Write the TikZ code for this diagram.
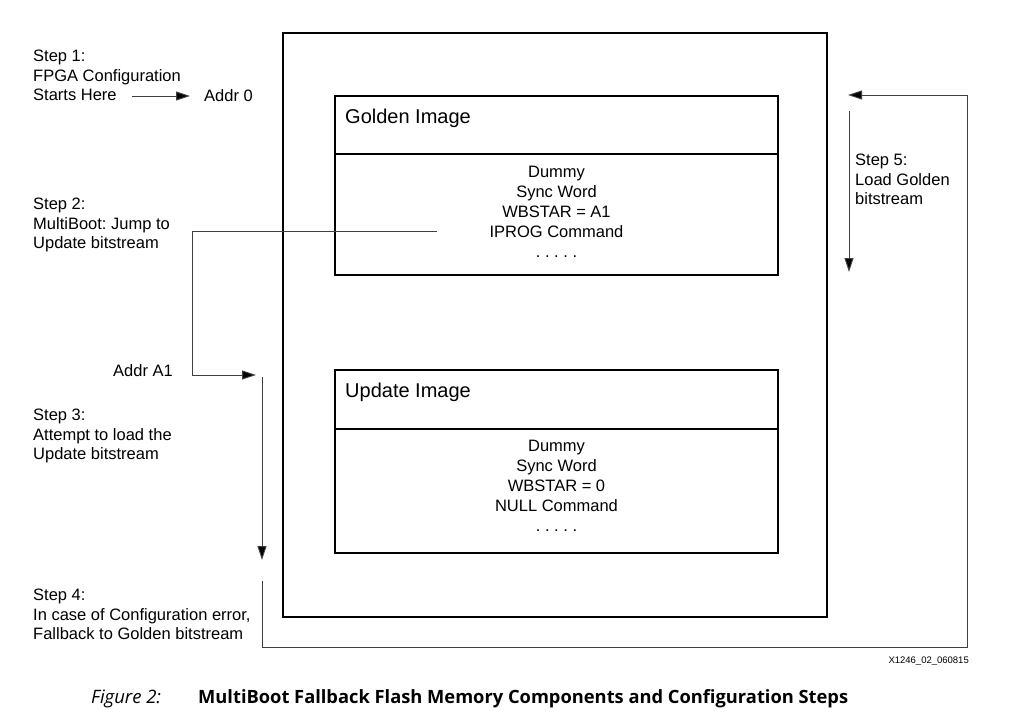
\documentclass[tikz,border=0pt]{standalone}
\usepackage{fontspec}
\setmainfont{Liberation Sans}
\newfontfamily\capfont{Open Sans}
\usetikzlibrary{arrows.meta}
\frenchspacing
\begin{document}
\begin{tikzpicture}[x=1pt,y=-1pt,
  txt/.style={inner sep=0pt, font=\fontsize{16.5}{19.5}\selectfont, align=left},
  bodytxt/.style={inner sep=0pt, font=\fontsize{16.5}{20}\selectfont, align=center},
  titletxt/.style={inner sep=0pt, font=\fontsize{20}{24}\selectfont},
  outerbox/.style={draw, line width=1.8pt, inner sep=0pt, outer sep=0pt, anchor=north west},
  imgbox/.style={draw, line width=1.5pt, inner sep=0pt, outer sep=0pt, anchor=north west, minimum width=443pt},
  conn/.style={draw=black!75, line width=1pt},
  arr/.style={conn, -{Triangle[length=14pt,width=9pt,fill=black]}},
]
\useasboundingbox (0,0) rectangle (1009,717);

% flash memory
\node[outerbox, minimum width=544pt, minimum height=584pt] (flash) at (283,33) {};
\node[imgbox, minimum height=58pt] (gtitle) at (335,96) {};
\node[imgbox, minimum height=121pt] (gbody) at (335,154) {};
\node[imgbox, minimum height=59pt] (utitle) at (335,370) {};
\node[imgbox, minimum height=124pt] (ubody) at (335,429) {};

\node[titletxt, anchor=base west] (gname) at (345,123) {Golden Image};
\node[titletxt, anchor=base west] (uname) at (345,397) {Update Image};
\node[bodytxt, anchor=north] (gtext) at (556.5,166.2) {Dummy\\Sync Word\\WBSTAR = A1\\IPROG Command\\. . . . .};
\node[bodytxt, anchor=north] (utext) at (556.5,440.2) {Dummy\\Sync Word\\WBSTAR = 0\\NULL Command\\. . . . .};

% step texts
\node[txt, anchor=north west] (step1) at (33,50) {Step 1:\\FPGA Configuration\\Starts Here};
\node[txt, anchor=north west] (step2) at (33,198) {Step 2:\\MultiBoot: Jump to\\Update bitstream};
\node[txt, anchor=north west] (step3) at (33,409) {Step 3:\\Attempt to load the\\Update bitstream};
\node[txt, anchor=north west] (step4) at (33,589) {Step 4:\\In case of Configuration error,\\Fallback to Golden bitstream};
\node[txt, anchor=north west] (step5) at (855,154) {Step 5:\\Load Golden\\bitstream};
\node[txt, anchor=base west] (addr0) at (204,101) {Addr 0};
\node[txt, anchor=base west] (addrA1) at (113,376) {Addr A1};

% connectors
\coordinate (s1start) at (132,96);
\draw[arr, shorten >=14pt] (s1start) -- (s1start -| addr0.west);

\coordinate (jumpsrc) at (437,231);
\coordinate (jumpturn) at (192,375);
\coordinate (a1tip) at (256,375);
\draw[arr] (jumpsrc) -| (jumpturn) -- (a1tip);

\coordinate (s3top) at (262,377);
\coordinate (s3bot) at (262,560);
\draw[arr] (s3top) -- (s3bot);

\coordinate (s4start) at (262,581);
\coordinate (loopcorner) at (967,647);
\coordinate (s5tip) at (848,95);
\draw[arr] (s4start) |- (loopcorner) |- (s5tip);

\coordinate (s5top) at (849,111);
\coordinate (s5bot) at (849,272);
\draw[arr] (s5top) -- (s5bot);

% figure id and caption
\node[inner sep=0pt, anchor=base east, font=\fontsize{9.5}{11}\selectfont] (figid) at (969,663) {X1246\_02\_060815};
\node[inner sep=0pt, anchor=base west, font=\capfont\itshape\fontsize{18.5}{22}\selectfont] (figlabel) at (91,703) {Figure 2:};
\node[inner sep=0pt, anchor=base west, font=\capfont\bfseries\fontsize{18.3}{22}\selectfont] (figtitle) at (198,703) {MultiBoot Fallback Flash Memory Components and Configuration Steps};
\end{tikzpicture}
\end{document}
